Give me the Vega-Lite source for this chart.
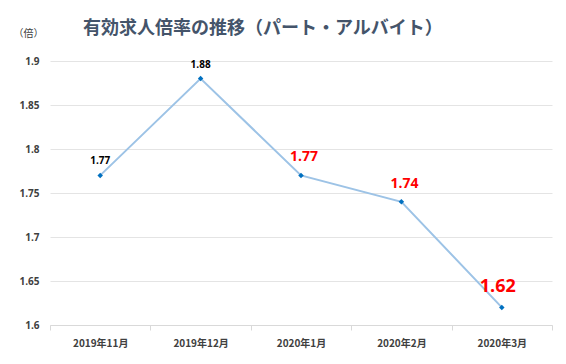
{
  "$schema": "https://vega.github.io/schema/vega-lite/v6.json",
  "width": 502,
  "height": 264,
  "autosize": {"type": "none"},
  "padding": {"left": 50, "top": 61, "right": 14, "bottom": 39},
  "background": "white",
  "config": {"view": {"stroke": null}},
  "title": {
    "text": "有効求人倍率の推移（パート・アルバイト）",
    "anchor": "start",
    "frame": "group",
    "dx": 33,
    "offset": -10,
    "font": "Noto Sans CJK JP",
    "fontSize": 18,
    "fontWeight": "bold",
    "color": "#44546A"
  },
  "data": {
    "values": [
      {"month": "2019年11月", "ratio": 1.77, "emphasis": "normal"},
      {"month": "2019年12月", "ratio": 1.88, "emphasis": "normal"},
      {"month": "2020年1月", "ratio": 1.77, "emphasis": "high"},
      {"month": "2020年2月", "ratio": 1.74, "emphasis": "high"},
      {"month": "2020年3月", "ratio": 1.62, "emphasis": "highest"}
    ]
  },
  "encoding": {
    "x": {
      "field": "month",
      "type": "ordinal",
      "sort": null,
      "scale": {"type": "band", "paddingInner": 0, "paddingOuter": 0},
      "axis": {
        "title": null,
        "labelAngle": 0,
        "labelFont": "Noto Sans CJK JP",
        "labelFontSize": 10,
        "labelFontWeight": "bold",
        "labelColor": "#404040",
        "labelPadding": 8,
        "tickBand": "extent",
        "tickSize": 5,
        "tickColor": "#d9d9d9",
        "domainColor": "#d9d9d9",
        "grid": false
      }
    },
    "y": {
      "field": "ratio",
      "type": "quantitative",
      "scale": {"domain": [1.6, 1.9], "zero": false, "nice": false},
      "axis": {
        "title": "（倍）",
        "titleAngle": 0,
        "titleX": -22,
        "titleY": -28,
        "titleAlign": "center",
        "titleBaseline": "middle",
        "titleFont": "Noto Sans CJK JP",
        "titleFontSize": 10,
        "titleFontWeight": "normal",
        "titleColor": "#404040",
        "values": [1.6, 1.65, 1.7, 1.75, 1.8, 1.85, 1.9],
        "format": ".2~f",
        "domain": false,
        "ticks": false,
        "labelPadding": 11,
        "labelFont": "Open Sans",
        "labelFontSize": 10,
        "labelFontWeight": "bold",
        "labelColor": "#404040",
        "gridColor": "#e4e4e4",
        "gridWidth": 1
      }
    }
  },
  "layer": [
    {"mark": {"type": "line", "color": "#9DC3E6", "strokeWidth": 2}},
    {"mark": {"type": "point", "shape": "diamond", "filled": true, "color": "#0070C0", "size": 30, "opacity": 1}},
    {
      "transform": [{"filter": "datum.emphasis == 'normal'"}],
      "mark": {"type": "text", "dy": -14, "font": "Open Sans", "fontSize": 10, "fontWeight": "bold", "color": "#000000"},
      "encoding": {"text": {"field": "ratio", "type": "quantitative", "format": ".2f"}}
    },
    {
      "transform": [{"filter": "datum.emphasis == 'high'"}],
      "mark": {"type": "text", "dy": -18, "dx": 3, "font": "Open Sans", "fontSize": 14, "fontWeight": "bold", "color": "#FF0000"},
      "encoding": {"text": {"field": "ratio", "type": "quantitative", "format": ".2f"}}
    },
    {
      "transform": [{"filter": "datum.emphasis == 'highest'"}],
      "mark": {"type": "text", "dy": -20, "dx": -4, "font": "Open Sans", "fontSize": 18, "fontWeight": "bold", "color": "#FF0000"},
      "encoding": {"text": {"field": "ratio", "type": "quantitative", "format": ".2f"}}
    }
  ]
}
